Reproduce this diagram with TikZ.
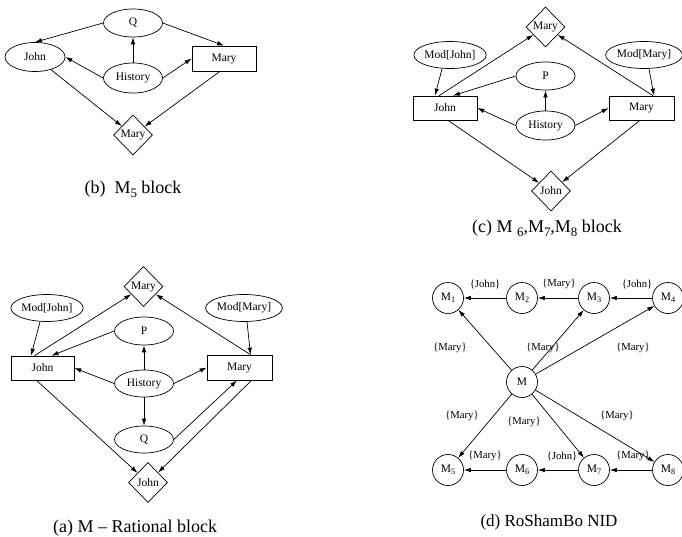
\documentclass[tikz,border=0pt]{standalone}
\usepackage{fontspec}
\setmainfont{Liberation Serif}
\usetikzlibrary{shapes.geometric,arrows.meta,calc}
\newcommand{\lowsub}[1]{\raisebox{-0.45ex}{\scalebox{0.72}{#1}}}
\begin{document}
\begin{tikzpicture}[x=1pt,y=-1pt,
  every node/.style={font=\fontsize{11.5}{13}\selectfont},
  base/.style={draw, line width=0.7pt, inner sep=0pt},
  ell/.style={base, ellipse, minimum width=59pt, minimum height=28pt},
  modell/.style={base, ellipse, minimum width=68pt, minimum height=27pt},
  rbox/.style={base, rectangle, minimum width=64pt, minimum height=24pt},
  dia/.style={base, diamond, minimum width=39pt, minimum height=40pt},
  circ/.style={base, circle, minimum size=31pt},
  arr/.style={-{Latex[length=7pt,width=4.5pt]}, line width=0.7pt},
  captxt/.style={font=\fontsize{18}{20}\selectfont, inner sep=0pt},
  lab/.style={font=\fontsize{10.7}{12}\selectfont, inner sep=1pt},
]
\fill[white] (0,0) rectangle (682,536);
\useasboundingbox (0,0) rectangle (682,536);

% ---------- (b) ----------
\node[ell] (bQ) at (133,23) {Q};
\node[ell, minimum width=60pt, minimum height=29pt] (bJohn) at (35,57) {John};
\node[ell, minimum height=30pt] (bHist) at (133,78) {History};
\node[rbox, minimum height=25pt] (bMary) at (224,58.5) {Mary};
\node[dia] (bMaryD) at (133,135) {Mary};
\node[captxt] (bcap) at (133,189) {(b)\ \ M\lowsub{5} block};
\draw[arr] (bQ.west) -- (bJohn.north);
\draw[arr] (bQ.east) -- (bMary.north);
\draw[arr] (bHist) -- (bQ);
\draw[arr] (bHist.west) -- (bJohn.east);
\draw[arr] (bHist.east) -- (bMary.west);
\draw[arr] (bJohn) -- (bMaryD);
\draw[arr] ($(bMary.south)+(-4,0)$) -- (bMaryD);

% ---------- (c) ----------
\node[dia] (cMaryD) at (545.5,27) {Mary};
\node[modell] (cModJ) at (450,55) {Mod[John]};
\node[modell] (cModM) at (644,55) {Mod[Mary]};
\node[ell] (cP) at (545.5,76) {P};
\node[rbox] (cJohn) at (445,108) {John};
\node[rbox, minimum width=65pt] (cMary) at (641.5,108) {Mary};
\node[ell, minimum height=29pt] (cHist) at (545.5,125.5) {History};
\node[dia] (cJohnD) at (551,191) {John};
\node[captxt] (ccap) at (547,228) {(c) M \lowsub{6},M\lowsub{7},M\lowsub{8} block};
\draw[arr] ($(cModJ.south)+(-8,0)$) -- ($(cJohn.north)+(-10,0)$);
\draw[arr] ($(cModM.south)+(5,0)$) -- ($(cMary.north)+(12.5,0)$);
\draw[arr] ($(cJohn.north)+(-6,0)$) -- (cMaryD);
\draw[arr] (cP.west) -- ($(cJohn.north)+(8,0)$);
\draw[arr] ($(cMary.north)+(11.5,0)$) -- (cMaryD);
\draw[arr] (cHist) -- (cP);
\draw[arr] (cHist.west) -- (cJohn.east);
\draw[arr] (cHist.east) -- (cMary.west);
\draw[arr] ($(cJohn.south)+(3,0)$) -- (cJohnD);
\draw[arr] ($(cMary.south)+(-1.5,0)$) -- (cJohnD);

% ---------- (a) ----------
\node[dia] (aMaryD) at (143.5,286.5) {Mary};
\node[modell, minimum width=69pt] (aModJ) at (47,308) {Mod[John]};
\node[modell] (aModM) at (244,308) {Mod[Mary]};
\node[ell] (aP) at (144,331) {P};
\node[rbox, minimum width=63pt] (aJohn) at (42.5,368) {John};
\node[rbox, minimum width=65pt, minimum height=25pt] (aMary) at (239.5,367.5) {Mary};
\node[ell, minimum height=27pt] (aHist) at (144,383.5) {History};
\node[ell, minimum height=27pt] (aQ) at (144,439.5) {Q};
\node[dia] (aJohnD) at (148,482.5) {John};
\node[captxt] (acap) at (135,528) {(a) M – Rational block};
\draw[arr] ($(aModJ.south)+(-7,0)$) -- ($(aJohn.north)+(-11.5,0)$);
\draw[arr] ($(aModM.south)+(3,0)$) -- ($(aMary.north)+(11,0)$);
\draw[arr] ($(aJohn.north)+(-8,0)$) -- (aMaryD);
\draw[arr] (aP.west) -- ($(aJohn.north)+(9,0)$);
\draw[arr] ($(aMary.north)+(11,0)$) -- (aMaryD);
\draw[arr] (aHist) -- (aP);
\draw[arr] (aHist) -- (aQ);
\draw[arr] (aHist.west) -- (aJohn.east);
\draw[arr] (aHist.east) -- (aMary.west);
\draw[arr] (aQ.east) -- ($(aMary.south)+(-2.5,0)$);
\draw[arr] ($(aMary.south)+(12,0)$) -- (aJohnD);
\draw[arr] ($(aJohn.south)+(-6,0)$) -- (aJohnD);

% ---------- (d) ----------
\node[circ] (M1) at (448,298) {M\lowsub{1}};
\node[circ] (M2) at (522,298) {M\lowsub{2}};
\node[circ] (M3) at (594,298) {M\lowsub{3}};
\node[circ] (M4) at (668,298) {M\lowsub{4}};
\node[circ] (M)  at (522,382) {M};
\node[circ] (M5) at (448,470) {M\lowsub{5}};
\node[circ] (M6) at (522,470) {M\lowsub{6}};
\node[circ] (M7) at (594,470) {M\lowsub{7}};
\node[circ] (M8) at (668,470) {M\lowsub{8}};
\draw[arr] (M2) -- (M1);
\draw[arr] (M3) -- (M2);
\draw[arr] (M4) -- (M3);
\draw[arr] (M6) -- (M5);
\draw[arr] (M7) -- (M6);
\draw[arr] (M8) -- (M7);
\draw[arr] (M) -- (M1);
\draw[arr] (M) -- (M3);
\draw[arr] (M) -- (M4);
\draw[arr] (M) -- (M5);
\draw[arr] (M) -- (M7);
\draw[arr] (M) -- (M8);
\node[lab] (l12) at (485,284) {\{John\}};
\node[lab] (l23) at (559,284) {\{Mary\}};
\node[lab] (l34) at (637,284) {\{John\}};
\node[lab] (lm1) at (450,348) {\{Mary\}};
\node[lab] (lm3) at (543,348) {\{Mary\}};
\node[lab] (lm4) at (633,348) {\{Mary\}};
\node[lab] (lm5) at (462,416) {\{Mary\}};
\node[lab] (lm7) at (524,422) {\{Mary\}};
\node[lab] (lm8) at (617,416) {\{Mary\}};
\node[lab] (l56) at (485,456) {\{Mary\}};
\node[lab] (l67) at (562,456) {\{John\}};
\node[lab] (l78) at (633,456) {\{Mary\}};
\node[captxt, font=\fontsize{17}{19}\selectfont] (dcap) at (549,522) {(d) RoShamBo NID};
\end{tikzpicture}
\end{document}
